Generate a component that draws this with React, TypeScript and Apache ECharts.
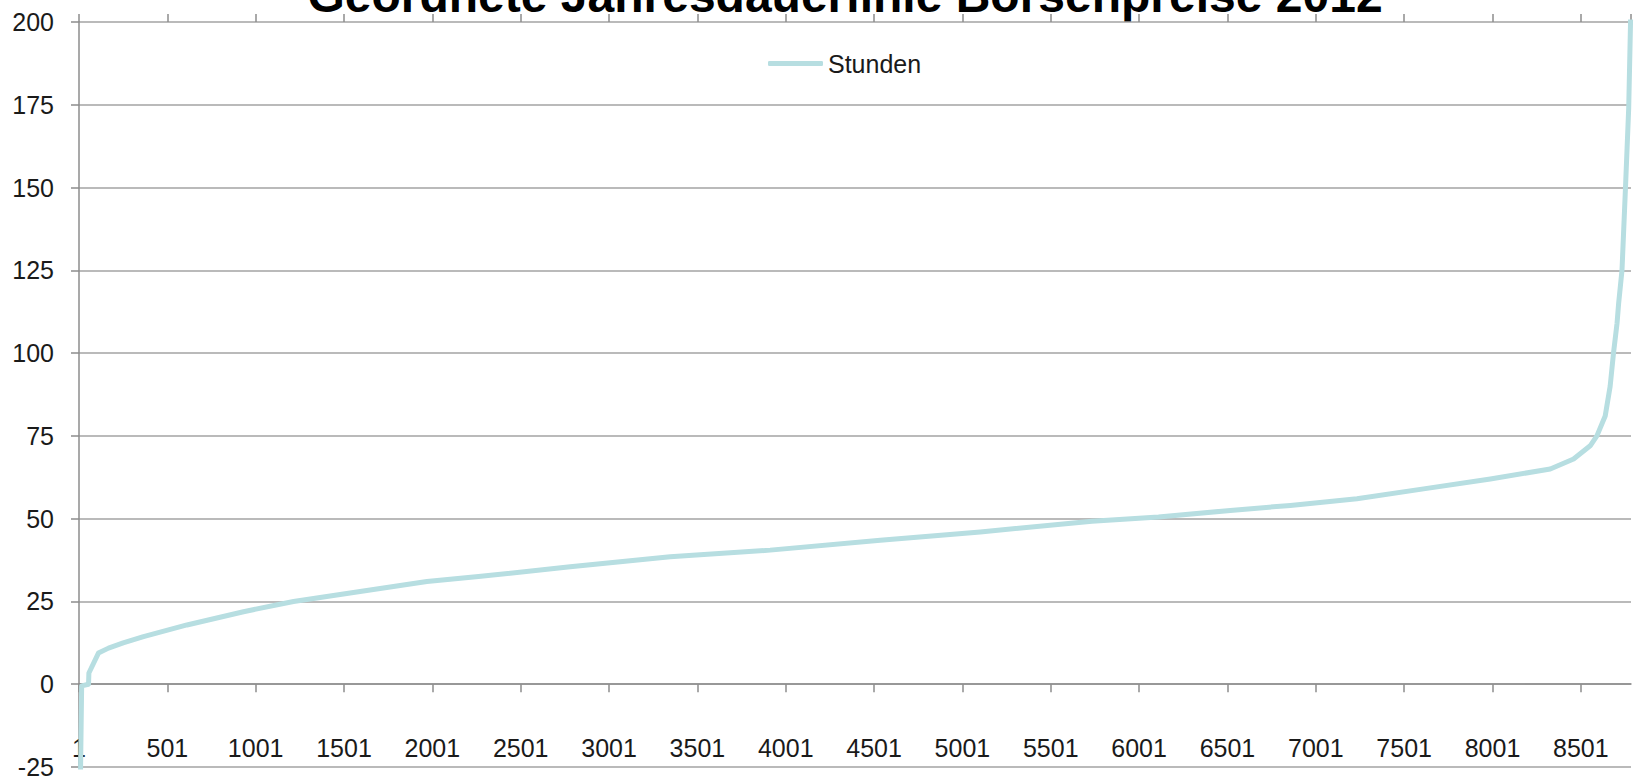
import React, { useEffect, useRef } from "react";
import * as echarts from "echarts";

// Hour rank (sorted hours of 2012) and price
const hours = [1, 9, 15, 54, 56, 110, 167, 250, 365, 611, 931, 1214, 1591, 1969, 2261, 2780, 3346, 3912, 4535, 5101, 5733, 6110, 6516, 6856, 7233, 7610, 7988, 8327, 8459, 8553, 8591, 8638, 8666, 8685, 8705, 8714, 8733, 8752, 8771, 8781, 8784];
const prices = [-60, -25, -0.5, 0, 3.4, 9.4, 10.9, 12.5, 14.4, 17.9, 21.9, 25, 28, 31, 32.5, 35.5, 38.5, 40.5, 43.5, 46, 49.2, 50.5, 52.5, 54, 56, 59, 62, 65, 68, 72, 75, 81, 90, 100, 109, 115, 125, 149, 174, 199, 210];

const yTicks = { min: -25, max: 200, step: 25 };
const xTicks = { min: 0, max: 8784, step: 500 };

const titleText = "Geordnete Jahresdauerlinie Börsenpreise 2012";
const seriesName = "Stunden";

export default function App() {
  const ref = useRef<HTMLDivElement>(null);
  useEffect(() => {
    if (!ref.current) return;
    const chart = echarts.init(ref.current, undefined, { renderer: "svg" });
    const font = "Liberation Sans";
    const axisColor = "#8c8c8c";
    const gridColor = "#a3a3a3";
    const textColor = "#1a1a1a";
    const lineColor = "#b7dee1";
    const data = hours.map((h, i) => [h, prices[i]]);
    chart.setOption({
      animation: false,
      backgroundColor: "#ffffff",
      textStyle: { fontFamily: font },
      grid: { left: 79, right: 5, top: 22, bottom: 12, containLabel: false, outerBoundsMode: "none" },
      graphic: [
        {
          type: "text",
          x: 845,
          y: -5,
          style: {
            text: titleText,
            font: "bold 48px 'Liberation Sans'",
            fill: "#000000",
            align: "center",
            verticalAlign: "middle",
          },
        },
      ],
      legend: {
        data: [seriesName],
        left: 763,
        top: 46,
        icon: "roundRect",
        itemWidth: 55,
        itemHeight: 5,
        itemGap: 10,
        itemStyle: { color: lineColor },
        textStyle: { fontSize: 25, color: textColor, fontFamily: font },
      },
      xAxis: [
        {
          type: "value",
          min: xTicks.min,
          max: xTicks.max,
          interval: xTicks.step,
          position: "bottom",
          axisLine: { show: true, onZero: true, lineStyle: { color: axisColor, width: 1.5 } },
          axisTick: { show: true, inside: false, length: 8, lineStyle: { color: axisColor, width: 1.5 } },
          axisLabel: {
            margin: -32,
            fontSize: 25,
            color: textColor,
            fontFamily: font,
            showMaxLabel: false,
            formatter: (v: number) => String(v + 1),
          },
          splitLine: { show: false },
        },
        {
          type: "value",
          min: xTicks.min,
          max: xTicks.max,
          interval: xTicks.step,
          position: "top",
          axisLine: { show: false, onZero: true },
          axisTick: { show: true, inside: false, length: 8, lineStyle: { color: axisColor, width: 1.5 } },
          axisLabel: { show: false },
          splitLine: { show: false },
        },
      ],
      yAxis: {
        type: "value",
        min: yTicks.min,
        max: yTicks.max,
        interval: yTicks.step,
        axisLine: { show: true, onZero: false, lineStyle: { color: axisColor, width: 1.5 } },
        axisTick: { show: true, inside: false, length: 8, lineStyle: { color: axisColor, width: 1.5 } },
        axisLabel: { margin: 25, fontSize: 25, color: textColor, fontFamily: font },
        splitLine: { show: true, lineStyle: { color: gridColor, width: 1.5 } },
      },
      series: [
        {
          name: seriesName,
          type: "line",
          xAxisIndex: 0,
          data,
          symbol: "none",
          showSymbol: false,
          clip: true,
          lineStyle: { color: lineColor, width: 5, join: "round", cap: "round" },
          itemStyle: { color: lineColor },
        },
      ],
    });
    return () => chart.dispose();
  }, []);
  return (
    <div
      ref={ref}
      style={{ position: "fixed", left: 0, top: 0, width: 1636, height: 779, background: "#fff" }}
    />
  );
}
